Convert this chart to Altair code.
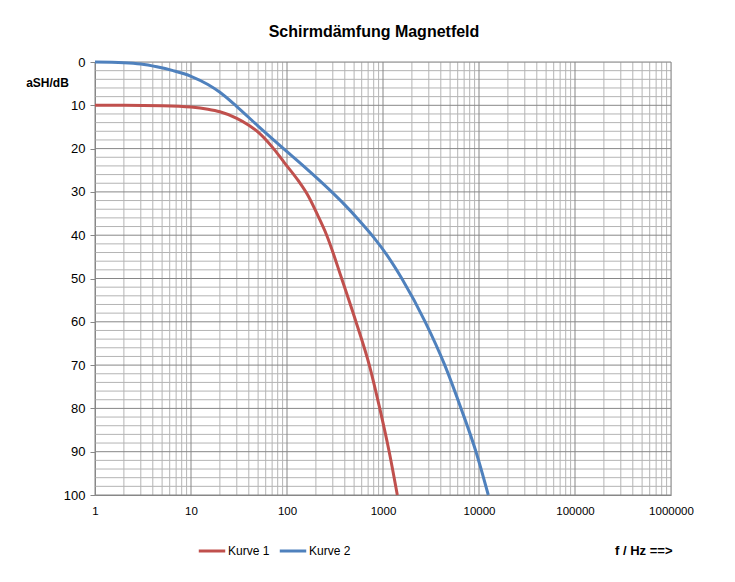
import altair as alt
import pandas as pd

# Kurve 1 (red)
f1 = [1, 2, 5, 10, 15, 20, 30, 40, 50, 70, 95, 130, 167, 212, 259, 371, 523, 720, 925, 1160, 1410]
a1 = [10.0, 10.0, 10.1, 10.4, 10.9, 11.5, 13.0, 14.6, 16.2, 19.6, 23.4, 27.3, 31.0, 35.7, 40.0, 50.0, 60.0, 70.0, 80.0, 90.0, 100.0]
# Kurve 2 (blue)
f2 = [1, 2, 3, 4.4, 6.5, 10, 15, 20, 30, 50, 70, 100, 150, 200, 292, 400, 550, 800, 1100, 1570, 2750, 4400, 6500, 9300, 12500]
a2 = [0.0, 0.15, 0.45, 1.1, 2.0, 3.3, 5.2, 7.0, 10.3, 14.8, 17.7, 20.7, 24.1, 26.6, 30.0, 33.0, 36.3, 40.5, 44.6, 50.0, 60.0, 70.0, 80.0, 90.0, 100.0]

series = ["Kurve 1", "Kurve 2"]
colors = ["#C0504D", "#4F81BD"]

x_major = [1, 10, 100, 1000, 10000, 100000, 1000000]
x_minor = [d * 10 ** k for k in range(6) for d in range(2, 10)]
y_major = [0, 10, 20, 30, 40, 50, 60, 70, 80, 90, 100]
y_minor = [v for v in range(0, 101, 2) if v % 10 != 0]

df = pd.DataFrame({
    "f": f1 + f2,
    "a": a1 + a2,
    "serie": [series[0]] * len(f1) + [series[1]] * len(f2),
})

xscale = alt.Scale(type="log", domain=[1, 1000000], nice=False)
yscale = alt.Scale(domain=[0, 100], reverse=True, nice=False, zero=False)

xaxis = alt.Axis(values=x_major, format="d", grid=False, ticks=False, labelFlush=False,
                 labelPadding=10, labelFontSize=11.5, labelColor="#000",
                 labelFont="Liberation Sans", domainColor="#878787",
                 title="f / Hz ==>", titleFont="Liberation Sans", titleFontSize=13,
                 titleFontWeight="bold", titleAlign="right", titleAnchor="end",
                 titleX=577, titleY=55, titleBaseline="middle", titleColor="#000")
yaxis = alt.Axis(values=y_major, grid=False, tickSize=5, tickColor="#878787", labelFlush=False,
                 labelPadding=5, labelFontSize=13, labelColor="#000",
                 labelFont="Liberation Sans", domainColor="#878787",
                 title="aSH/dB", titleFont="Liberation Sans", titleFontSize=12,
                 titleFontWeight="bold", titleAngle=0, titleAlign="center",
                 titleX=-48, titleY=20, titleBaseline="middle", titleColor="#000")

X = alt.X("f:Q", scale=xscale, axis=xaxis)
Y = alt.Y("a:Q", scale=yscale, axis=yaxis)

vminor = alt.Chart(pd.DataFrame({"f": x_minor})).mark_rule(color="#B4B4B4", strokeWidth=1).encode(x=X)
vmajor = alt.Chart(pd.DataFrame({"f": x_major})).mark_rule(color="#878787", strokeWidth=1).encode(x=X)
hminor = alt.Chart(pd.DataFrame({"a": y_minor})).mark_rule(color="#B4B4B4", strokeWidth=1).encode(y=Y)
hmajor = alt.Chart(pd.DataFrame({"a": y_major})).mark_rule(color="#878787", strokeWidth=1).encode(y=Y)

lines = alt.Chart(df).mark_line(strokeWidth=3, interpolate="monotone").encode(
    x=X,
    y=Y,
    color=alt.Color("serie:N", scale=alt.Scale(domain=series, range=colors),
                    legend=alt.Legend(orient="none", legendX=102, legendY=474,
                                      direction="horizontal", title=None,
                                      symbolType="stroke", symbolStrokeWidth=3,
                                      symbolSize=700, labelFontSize=12,
                                      labelFont="Liberation Sans", labelColor="#000",
                                      labelOffset=1, columnPadding=3, padding=0)),
    order=alt.Order("f:Q"),
)

chart = alt.layer(vminor, hminor, vmajor, hmajor, lines).properties(
    width=576, height=433,
    title=alt.TitleParams("Schirmdämfung Magnetfeld", font="Liberation Sans", fontSize=16,
                          fontWeight="bold", anchor="middle", dx=-9, offset=16, color="#000"),
    autosize=alt.AutoSizeParams(type="none"),
    padding={"left": 87, "top": 54, "right": 56, "bottom": 70},
).configure_view(stroke=None).configure(background="white")

chart.save("out.html", embed_options={"renderer": "svg", "actions": False})
